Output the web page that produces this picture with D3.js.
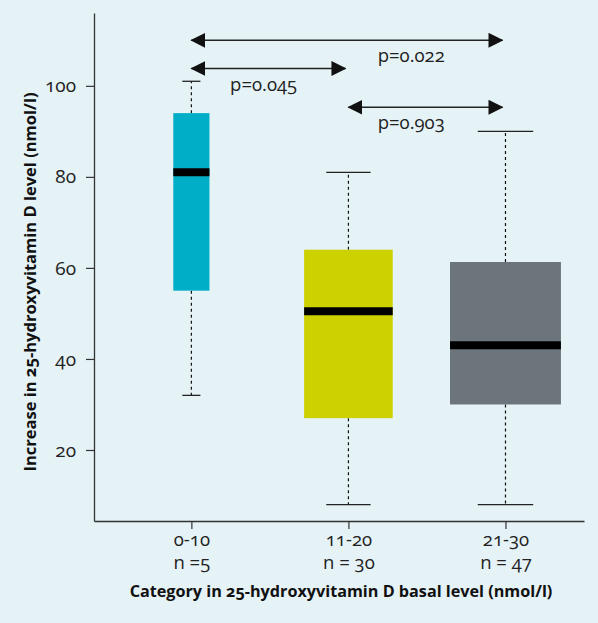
<!DOCTYPE html>
<html>
<head>
<meta charset="utf-8">
<script src="https://cdn.jsdelivr.net/npm/d3@7"></script>
<style>
  html, body { margin: 0; padding: 0; background: #e5f2f6; }
  svg { display: block; font-family: 'Open Sans', sans-serif; font-variant-numeric: oldstyle-nums; }
</style>
</head>
<body>
<div id="chart"></div>
<script>
// category data
const categories = ['0-10', '11-20', '21-30'];
const counts = [5, 30, 47];
const countLabels = ['n =5', 'n = 30', 'n = 47'];
const whiskerLow = [32, 8, 8];
const q1 = [55, 27, 30];
const medians = [81, 50.5, 43];
const q3 = [94, 64, 61.3];
const whiskerHigh = [101, 81, 90];
const boxColors = ['#00aec7', '#cdd100', '#6b757b'];
const yTicks = [20, 40, 60, 80, 100];

// pairwise comparisons
const compFrom = [1, 1, 2];
const compTo = [3, 2, 3];
const compY = [110, 103.8, 95.3];
const compLabels = ['p=0.022', 'p=0.045', 'p=0.903'];
const compLabelX = [2.4, 1.46, 2.4];

const width = 598, height = 623;

const svg = d3.select('#chart')
  .append('svg')
  .attr('width', width)
  .attr('height', height);

const x = d3.scaleLinear().domain([0.38, 3.5]).range([94, 584]);
const y = d3.scaleLinear().domain([4.4, 116]).range([521, 13]);

// arrow head
const defs = svg.append('defs');
defs.append('marker')
  .attr('id', 'head')
  .attr('markerUnits', 'userSpaceOnUse')
  .attr('markerWidth', 15)
  .attr('markerHeight', 16)
  .attr('refX', 14)
  .attr('refY', 7.5)
  .attr('orient', 'auto-start-reverse')
  .append('path')
  .attr('d', 'M0,0 L15,7.5 L0,15 Z')
  .attr('fill', '#111');

// Y Axis
const yAxis = svg.append('g')
  .attr('transform', 'translate(94,0)')
  .call(d3.axisLeft(y).tickValues(yTicks).tickSize(8).tickSizeOuter(0).tickPadding(10));
yAxis.select('.domain').attr('stroke', '#333').attr('stroke-width', 1.3);
yAxis.selectAll('.tick line').attr('stroke', '#333').attr('stroke-width', 1.2);
yAxis.selectAll('.tick text')
  .attr('font-size', 19)
  .attr('font-family', 'Open Sans, sans-serif')
  .attr('fill', '#222');

// X Axis
const xAxis = svg.append('g')
  .attr('transform', 'translate(0,521)')
  .call(d3.axisBottom(x).tickValues([1, 2, 3]).tickSize(8).tickSizeOuter(0).tickFormat(''));
xAxis.select('.domain').attr('stroke', '#333').attr('stroke-width', 1.3);
xAxis.selectAll('.tick line').attr('stroke', '#333').attr('stroke-width', 1.2);

xAxis.selectAll('.tick').each(function (d, i) {
  const t = d3.select(this).append('text')
    .attr('fill', '#222')
    .attr('font-size', 18.5)
    .attr('font-family', 'Open Sans, sans-serif')
    .attr('text-anchor', 'middle');
  t.append('tspan').attr('x', 0).attr('y', 25).text(categories[i]);
  t.append('tspan').attr('x', 0).attr('y', 48).text(countLabels[i]);
});

// Boxes
const boxes = categories.map((c, i) => ({
  pos: i + 1,
  half: 0.0515 * Math.sqrt(counts[i]),
  lo: whiskerLow[i], q1: q1[i], med: medians[i], q3: q3[i], hi: whiskerHigh[i],
  color: boxColors[i]
}));

const g = svg.selectAll('.box')
  .data(boxes)
  .enter()
  .append('g')
  .attr('class', 'box');

// whiskers
g.append('line')
  .attr('x1', d => x(d.pos)).attr('x2', d => x(d.pos))
  .attr('y1', d => y(d.q3)).attr('y2', d => y(d.hi))
  .attr('stroke', '#111').attr('stroke-width', 1.2).attr('stroke-dasharray', '3,3');
g.append('line')
  .attr('x1', d => x(d.pos)).attr('x2', d => x(d.pos))
  .attr('y1', d => y(d.q1)).attr('y2', d => y(d.lo))
  .attr('stroke', '#111').attr('stroke-width', 1.2).attr('stroke-dasharray', '3,3');
// caps
g.append('line')
  .attr('x1', d => x(d.pos - d.half / 2)).attr('x2', d => x(d.pos + d.half / 2))
  .attr('y1', d => y(d.hi)).attr('y2', d => y(d.hi))
  .attr('stroke', '#222').attr('stroke-width', 1.3);
g.append('line')
  .attr('x1', d => x(d.pos - d.half / 2)).attr('x2', d => x(d.pos + d.half / 2))
  .attr('y1', d => y(d.lo)).attr('y2', d => y(d.lo))
  .attr('stroke', '#222').attr('stroke-width', 1.3);
// box
g.append('rect')
  .attr('x', d => x(d.pos - d.half))
  .attr('y', d => y(d.q3))
  .attr('width', d => x(d.pos + d.half) - x(d.pos - d.half))
  .attr('height', d => y(d.q1) - y(d.q3))
  .attr('fill', d => d.color);
// median
g.append('line')
  .attr('x1', d => x(d.pos - d.half)).attr('x2', d => x(d.pos + d.half))
  .attr('y1', d => y(d.med)).attr('y2', d => y(d.med))
  .attr('stroke', '#000').attr('stroke-width', 8);

// comparison arrows
const comps = compLabels.map((l, i) => ({
  from: compFrom[i], to: compTo[i], v: compY[i], label: l, lx: compLabelX[i]
}));

svg.selectAll('.comp')
  .data(comps)
  .enter()
  .append('line')
  .attr('class', 'comp')
  .attr('x1', d => x(d.from))
  .attr('x2', d => x(d.to) - 3)
  .attr('y1', d => y(d.v))
  .attr('y2', d => y(d.v))
  .attr('stroke', '#222')
  .attr('stroke-width', 1.5)
  .attr('marker-start', 'url(#head)')
  .attr('marker-end', 'url(#head)');

svg.selectAll('.comp-label')
  .data(comps)
  .enter()
  .append('text')
  .attr('class', 'comp-label')
  .attr('x', d => x(d.lx))
  .attr('y', d => y(d.v) + 22)
  .attr('text-anchor', 'middle')
  .attr('font-size', 18.5)
  .attr('fill', '#222')
  .text(d => d.label);

// axis titles
svg.append('text')
  .attr('x', 341)
  .attr('y', 597)
  .attr('text-anchor', 'middle')
  .attr('font-size', 16.2)
  .attr('font-weight', 'bold')
  .attr('fill', '#111')
  .text('Category in 25-hydroxyvitamin D basal level (nmol/l)');

svg.append('text')
  .attr('transform', 'translate(36,282) rotate(-90)')
  .attr('text-anchor', 'middle')
  .attr('font-size', 16.5)
  .attr('font-weight', 'bold')
  .attr('fill', '#111')
  .text('Increase in 25-hydroxyvitamin D level (nmol/l)');
</script>
</body>
</html>
